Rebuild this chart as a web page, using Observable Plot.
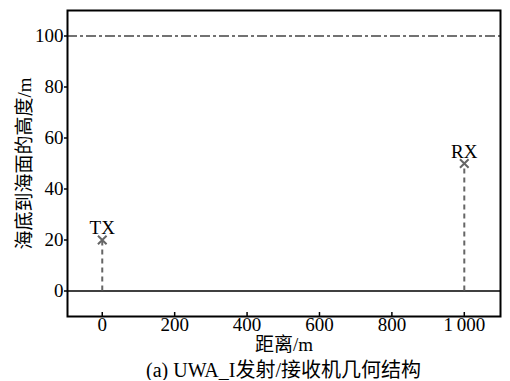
<!DOCTYPE html>
<html>
<head>
<meta charset="utf-8">
<script src="https://cdn.jsdelivr.net/npm/d3@7"></script>
<script src="https://cdn.jsdelivr.net/npm/@observablehq/plot@0.6"></script>
<style>
  html, body { margin: 0; padding: 0; background: #fff; overflow: hidden; }
  #chart svg { display: block; }
  .caption {
    width: 510px; box-sizing: border-box; padding-left: 57px;
    text-align: center; font: 20px "Liberation Serif", "Noto Sans CJK SC", serif;
    line-height: 20px; color: #000;
  }
</style>
</head>
<body>
<div id="chart"></div>
<div class="caption">(a) UWA_I发射/接收机几何结构</div>
<script>
// Transmitter / receiver geometry
const nodeNames = ["TX", "RX"];
const nodeRange = [0, 1000];     // distance along track, m
const nodeHeight = [20, 50];     // height above the seabed, m
const seabed = 0;
const surface = 100;

const xTicks = [0, 200, 400, 600, 800, 1000];
const yTicks = [0, 20, 40, 60, 80, 100];

const nodes = nodeNames.map((name, i) => ({name, x: nodeRange[i], y: nodeHeight[i]}));

const serif = "'Liberation Serif', 'Noto Sans CJK SC', serif";
const fmtX = d => d >= 1000 ? d3.format(",")(d).replace(",", "\u2009") : String(d);

const chart = Plot.plot({
  width: 510,
  height: 360,
  marginLeft: 67,
  marginRight: 10,
  marginTop: 10,
  marginBottom: 44,
  style: {fontFamily: serif, fontSize: "19px", color: "#000", background: "#fff"},
  x: {domain: [-96, 1100]},
  y: {domain: [-10, 110]},
  marks: [
    Plot.axisX({
      ticks: xTicks, tickFormat: fmtX, tickSize: -4, tickPadding: 5,
      strokeWidth: 1.5, fontSize: 19,
      label: "距离/m", labelAnchor: "center", labelArrow: "none", labelOffset: 34
    }),
    Plot.axisY({
      ticks: yTicks, tickSize: 3, tickPadding: 1, strokeWidth: 1.5, fontSize: 19,
      label: "海底到海面的高度/m", labelAnchor: "center", labelArrow: "none", labelOffset: 50
    }),
    // sea surface
    Plot.ruleY([surface], {stroke: "#444", strokeWidth: 1.5, strokeDasharray: "10,3,3,3"}),
    // seabed
    Plot.ruleY([seabed], {stroke: "#000", strokeWidth: 1.5}),
    // node moorings
    Plot.ruleX(nodes, {x: "x", y1: seabed, y2: "y", stroke: "#666", strokeWidth: 2, strokeDasharray: "5,4"}),
    Plot.dot(nodes, {x: "x", y: "y", symbol: "times", r: 4, stroke: "#666", strokeWidth: 2}),
    Plot.text(nodes, {x: "x", y: "y", text: "name", dy: -12, fontSize: 19, fill: "#000"}),
    Plot.frame({stroke: "#000", strokeWidth: 2})
  ]
});
document.getElementById("chart").append(chart);
</script>
</body>
</html>
